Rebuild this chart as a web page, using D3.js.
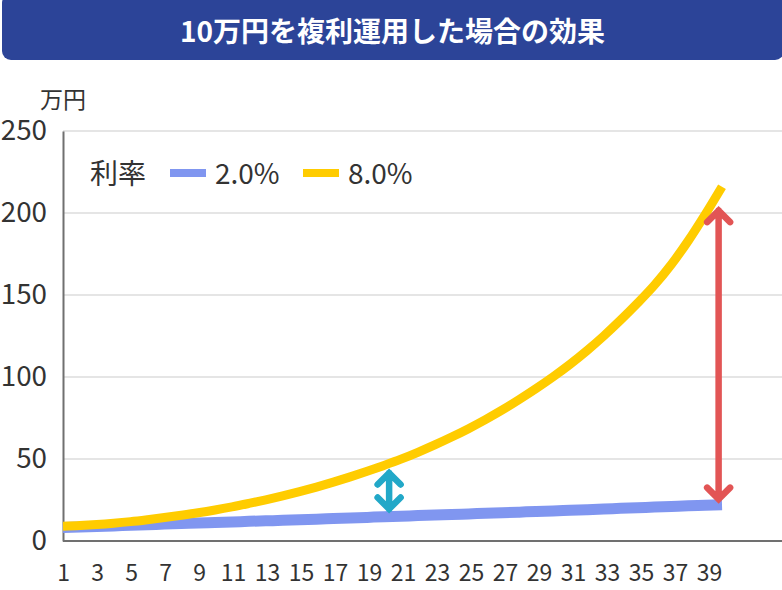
<!DOCTYPE html>
<html>
    <head>
        <meta charset="utf-8">
        <style>
body {
    margin: 0;
    background: #fff;
    font-family: "Noto Sans CJK JP", sans-serif;
}
svg {
    display: block;
}
text {
    fill: #333;
}
.grid line {
    stroke: #e5e5e5;
    stroke-width: 2;
}
.axis path, .axis line {
    stroke: #707070;
    stroke-width: 2;
}
        </style>
    </head>
    <body>
<script src="https://d3js.org/d3.v7.min.js"></script>
<script>

const
    width = 782,
    height = 590;

const titleText = '10万円を複利運用した場合の効果';
const unitText = '万円';
const legendTitle = '利率';

const yTicks = [0, 50, 100, 150, 200, 250];
const xTicks = d3.range(1, 40, 2);

// values, one per point along the line
const periods = d3.range(1, 41);
const rate2 = [8.2, 8.5, 8.9, 9.2, 9.6, 9.9, 10.3, 10.6, 11, 11.3, 11.6, 12, 12.3, 12.6, 13, 13.3, 13.7, 14, 14.4, 14.8,
    15.1, 15.5, 15.8, 16.2, 16.5, 16.9, 17.2, 17.6, 18, 18.3, 18.7, 19.1, 19.5, 19.9, 20.3, 20.7, 21.1, 21.5, 21.8, 22.1];
const rate8 = [9, 9.4, 10, 10.8, 11.8, 13, 14.3, 15.7, 17.2, 18.9, 20.8, 22.9, 25.1, 27.5, 30.1, 32.9, 35.9, 39.1, 42.5, 46.1,
    49.9, 54.1, 58.6, 63.4, 68.5, 74, 79.9, 86.3, 93, 100.1, 107.7, 116, 125, 134.7, 145, 156, 168.6, 183, 199, 216];

// [period, low, high]
const arrowTeal = [20.3, 16.5, 44.5];
const arrowRed = [39.8, 22.5, 204.5];

const
    yScale = d3.scaleLinear().domain([0, 250]).range([541, 131]),
    xLine = d3.scaleLinear().domain([1, 40]).range([63, 722]),
    // labels run a little wider than the points do
    xLabel = d3.scaleLinear().domain([1, 39]).range([63, 709]);

const svg = d3.select('body')
    .append('svg')
    .attr('width', width)
    .attr('height', height);

// title bar, runs off the top and right edges
svg.append('rect')
    .attr('x', 2)
    .attr('y', -6)
    .attr('width', 782)
    .attr('height', 66)
    .attr('rx', 9)
    .attr('fill', '#2c4498');
svg.append('text')
    .attr('x', 392.5)
    .attr('y', 42)
    .attr('text-anchor', 'middle')
    .attr('font-size', 28)
    .attr('font-weight', 700)
    .style('fill', '#fff')
    .text(titleText);

svg.append('text')
    .attr('x', 40)
    .attr('y', 108)
    .attr('font-size', 23)
    .text(unitText);

// gridlines
svg.append('g')
    .classed('grid', true)
    .selectAll('line')
    .data(yTicks.filter(d => d > 0))
  .enter().append('line')
    .attr('x1', 63)
    .attr('x2', width)
    .attr('y1', d => yScale(d))
    .attr('y2', d => yScale(d));

// y axis
const yAxis = svg.append('g')
    .classed('axis', true)
    .attr('transform', 'translate(63,0)')
    .call(d3.axisLeft(yScale).tickValues(yTicks).tickSize(0).tickPadding(16));
yAxis.selectAll('text')
    .attr('font-size', 27.8)
    .attr('font-family', '"Noto Sans CJK JP", sans-serif');

// x axis
const xAxis = svg.append('g')
    .classed('axis', true)
    .attr('transform', 'translate(0,541)')
    .call(d3.axisBottom(xLabel).tickValues(xTicks).tickFormat(d3.format('d')).tickSize(0).tickPadding(24));
xAxis.select('.domain').attr('d', 'M63,0H' + width);
xAxis.selectAll('text')
    .attr('font-size', 23)
    .attr('font-family', '"Noto Sans CJK JP", sans-serif');

// lines
const line = d3.line()
    .x((d, i) => xLine(periods[i]))
    .y(d => yScale(d))
    .curve(d3.curveMonotoneX);

svg.append('path')
    .attr('d', line(rate2))
    .attr('fill', 'none')
    .attr('stroke', '#8096f0')
    .attr('stroke-width', 11);
svg.append('path')
    .attr('d', line(rate8))
    .attr('fill', 'none')
    .attr('stroke', '#ffcc00')
    .attr('stroke-width', 9);

// double arrows
function drawArrow(a, color, w) {
    const x = xLine(a[0]), y0 = yScale(a[1]), y1 = yScale(a[2]);
    const p = d3.path();
    p.moveTo(x, y0 - 5);
    p.lineTo(x, y1 + 5);
    p.moveTo(x - 11.5, y1 + 16.5);
    p.lineTo(x, y1 + 5);
    p.lineTo(x + 11.5, y1 + 16.5);
    p.moveTo(x - 11.5, y0 - 16.5);
    p.lineTo(x, y0 - 5);
    p.lineTo(x + 11.5, y0 - 16.5);
    svg.append('path')
        .attr('d', p.toString())
        .attr('fill', 'none')
        .attr('stroke', color)
        .attr('stroke-width', w)
        .attr('stroke-linecap', 'round')
        .attr('stroke-linejoin', 'miter');
}
drawArrow(arrowTeal, '#22a8c8', 6.5);
drawArrow(arrowRed, '#e25555', 6.5);

// legend
svg.append('text')
    .attr('x', 90)
    .attr('y', 184)
    .attr('font-size', 28)
    .text(legendTitle);

const legend = svg.selectAll('.legend')
    .data([['2.0%', '#8096f0', 170], ['8.0%', '#ffcc00', 303]])
  .enter().append('g')
    .classed('legend', true)
    .attr('transform', d => 'translate(' + d[2] + ',0)');
legend.append('rect')
    .attr('y', 169)
    .attr('width', 36)
    .attr('height', 8)
    .attr('fill', d => d[1]);
legend.append('text')
    .attr('x', 45)
    .attr('y', 184)
    .attr('font-size', 28)
    .text(d => d[0]);

</script>
    </body>
</html>
